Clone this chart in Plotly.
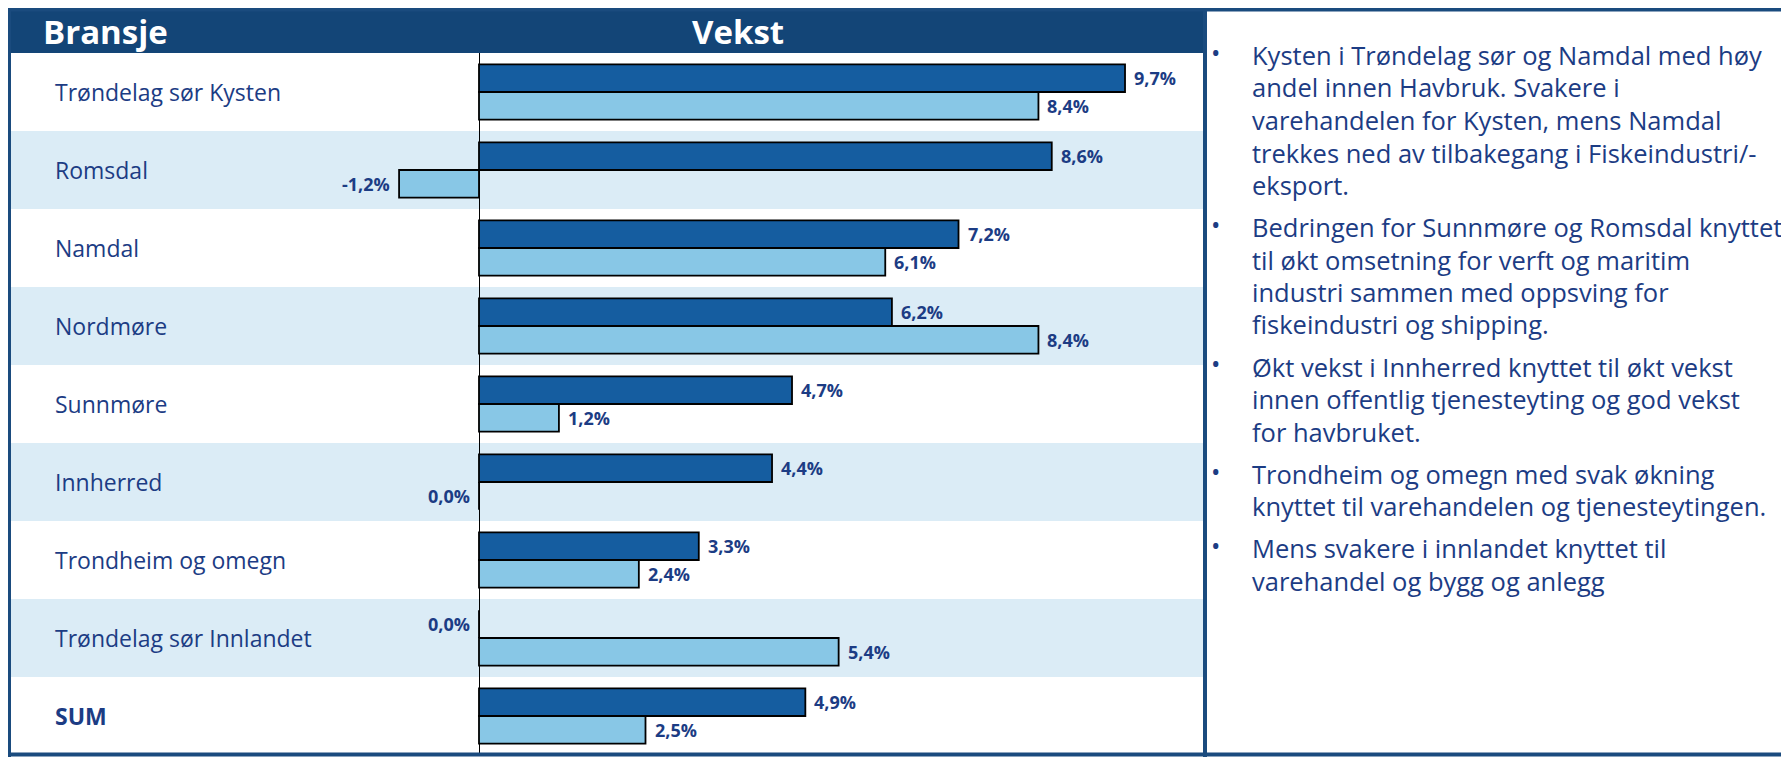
import plotly.graph_objects as go

# ---------------- data ----------------
categories = ["Trøndelag sør Kysten", "Romsdal", "Namdal", "Nordmøre", "Sunnmøre",
              "Innherred", "Trondheim og omegn", "Trøndelag sør Innlandet", "SUM"]
growth_dark = [9.7, 8.6, 7.2, 6.2, 4.7, 4.4, 3.3, 0.0, 4.9]
growth_light = [8.4, -1.2, 6.1, 8.4, 1.2, 0.0, 2.4, 5.4, 2.5]

header_left = "Bransje"
header_mid = "Vekst"

comments = [
    ["Kysten i Trøndelag sør og Namdal med høy", "andel innen Havbruk. Svakere i",
     "varehandelen for Kysten, mens Namdal", "trekkes ned av tilbakegang i Fiskeindustri/-",
     "eksport."],
    ["Bedringen for Sunnmøre og Romsdal knyttet", "til økt omsetning for verft og maritim",
     "industri sammen med oppsving for", "fiskeindustri og shipping."],
    ["Økt vekst i Innherred knyttet til økt vekst", "innen offentlig tjenesteyting og god vekst",
     "for havbruket."],
    ["Trondheim og omegn med svak økning", "knyttet til varehandelen og tjenesteytingen."],
    ["Mens svakere i innlandet knyttet til", "varehandel og bygg og anlegg"],
]

# ---------------- style ----------------
OFF = 8                      # default page margin of the html body
FW, FH = 1789 - OFF, 757 - OFF
FONT = "Open Sans"
NAVY = "#1C3C84"
BORDER = "#1A4B7E"
HEADER = "#134577"
DARK = "#155DA0"
LIGHT = "#88C7E6"
BAND = "#DBECF6"


def px(x):
    """screen x -> paper x"""
    return (x - OFF) / FW


def py(y):
    """screen y -> paper y"""
    return 1 - (y - OFF) / FH


left_x, div_x = 9, 1205
top_rows, bottom_rows = 53, 755
zero_px = 479
scale = 66.6  # px per percent
xr = [(left_x - zero_px) / scale, (div_x - zero_px) / scale]

fig = go.Figure()
fig.add_trace(go.Bar(y=categories, x=growth_dark, orientation="h", name="Vekst 1",
                     marker=dict(color=DARK, line=dict(color="black", width=1.8)),
                     hoverinfo="skip"))
fig.add_trace(go.Bar(y=categories, x=growth_light, orientation="h", name="Vekst 2",
                     marker=dict(color=LIGHT, line=dict(color="black", width=1.8)),
                     hoverinfo="skip"))

shapes = []
for i in range(len(categories)):
    if i % 2 == 1:
        shapes.append(dict(type="rect", xref="paper", yref="y", x0=px(left_x), x1=px(div_x),
                           y0=i - 0.5, y1=i + 0.5, fillcolor=BAND, line=dict(width=0),
                           layer="below"))
# header
shapes.append(dict(type="rect", xref="paper", yref="paper", x0=px(7), x1=px(1207),
                   y0=py(53), y1=py(6), fillcolor=HEADER, line=dict(width=0)))
# borders
shapes.append(dict(type="line", xref="paper", yref="paper", x0=px(7), x1=px(1789),
                   y0=py(9.5), y1=py(9.5), line=dict(color=BORDER, width=4)))
shapes.append(dict(type="line", xref="paper", yref="paper", x0=px(7), x1=px(1789),
                   y0=py(754.5), y1=py(754.5), line=dict(color=BORDER, width=4)))
shapes.append(dict(type="line", xref="paper", yref="paper", x0=px(9), x1=px(9),
                   y0=py(7), y1=py(757), line=dict(color=BORDER, width=4)))
shapes.append(dict(type="line", xref="paper", yref="paper", x0=px(1205), x1=px(1205),
                   y0=py(7), y1=py(757), line=dict(color=BORDER, width=4)))

annotations = []
annotations.append(dict(text=f"<b>{header_left}</b>", xref="paper", yref="paper",
                        x=px(41), y=py(31), xanchor="left", yanchor="middle", showarrow=False,
                        font=dict(family=FONT, size=33, color="white")))
annotations.append(dict(text=f"<b>{header_mid}</b>", xref="paper", yref="paper",
                        x=px(738), y=py(31), xanchor="center", yanchor="middle", showarrow=False,
                        font=dict(family=FONT, size=33, color="white")))

for c in categories:
    txt = f"<b>{c}</b>" if c == "SUM" else c
    annotations.append(dict(text=txt, xref="paper", yref="y", x=px(53), y=c,
                            xanchor="left", yanchor="middle", showarrow=False,
                            font=dict(family=FONT, size=23, color=NAVY)))


def fmt(v):
    return f"{v:.1f}".replace(".", ",") + "%"


row_h = (bottom_rows - top_rows) / len(categories)
bargap = 0.29
half = row_h * (1 - bargap) / 4
for series, shift in ((growth_dark, half), (growth_light, -half)):
    for c, v in zip(categories, series):
        pos = v > 0
        annotations.append(dict(text=f"<b>{fmt(v)}</b>", xref="x", yref="y", x=v, y=c,
                                xanchor="left" if pos else "right", yanchor="middle",
                                xshift=7 if pos else -7, yshift=shift, showarrow=False,
                                font=dict(family=FONT, size=18, color=NAVY)))

# comments panel
y = 55
for para in comments:
    annotations.append(dict(text="•", xref="paper", yref="paper", x=px(1215), y=py(y - 3),
                            xanchor="center", yanchor="middle", showarrow=False,
                            font=dict(family=FONT, size=25, color=NAVY)))
    for line in para:
        annotations.append(dict(text=line, xref="paper", yref="paper", x=px(1250), y=py(y),
                                xanchor="left", yanchor="middle", showarrow=False,
                                font=dict(family=FONT, size=25.5, color=NAVY)))
        y += 32.5
    y += 9.5

fig.update_layout(
    width=FW, height=FH, margin=dict(l=0, r=0, t=0, b=0),
    paper_bgcolor="white", plot_bgcolor="white",
    barmode="group", bargap=bargap, bargroupgap=0, showlegend=False,
    xaxis=dict(domain=[px(left_x), px(div_x)], range=xr, showgrid=False, zeroline=True,
               zerolinecolor="black", zerolinewidth=1, showticklabels=False, ticks="",
               fixedrange=True),
    yaxis=dict(domain=[py(bottom_rows), py(top_rows)], range=[len(categories) - 0.5, -0.5],
               showgrid=False, zeroline=False, showticklabels=False, ticks="", fixedrange=True),
    shapes=shapes, annotations=annotations,
)

fig.write_html("out.html")
